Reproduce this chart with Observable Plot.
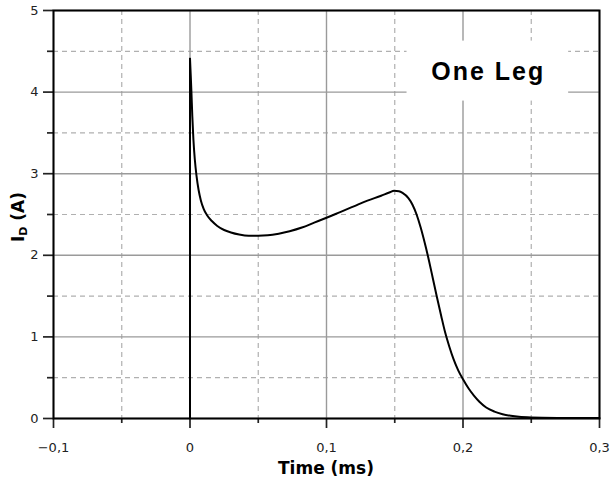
<!DOCTYPE html>
<html>
<head>
<meta charset="utf-8">
<script src="https://cdn.jsdelivr.net/npm/d3@7"></script>
<script src="https://cdn.jsdelivr.net/npm/@observablehq/plot@0.6"></script>
<style>
  body { margin: 0; background: #fff; }
</style>
</head>
<body>
<div id="chart"></div>
<script>
// Drain current of one leg during a switching event
const spikeTime = [0, 0];
const spikeCurrent = [0, 4.41];

const time = [0, 0.0005, 0.001, 0.0017, 0.0025, 0.0035, 0.0048, 0.0063, 0.008, 0.010,
  0.0125, 0.016, 0.020, 0.025, 0.030, 0.036, 0.043, 0.050, 0.057, 0.065, 0.073, 0.082,
  0.091, 0.1, 0.11, 0.12, 0.13, 0.14, 0.146, 0.1496, 0.153, 0.1557, 0.16, 0.163, 0.166,
  0.169, 0.172, 0.175, 0.178, 0.181, 0.184, 0.187, 0.190, 0.193, 0.1965, 0.2, 0.204,
  0.208, 0.212, 0.217, 0.223, 0.229, 0.235, 0.241, 0.25, 0.27, 0.3];
const current = [4.41, 4.22, 4.02, 3.70, 3.42, 3.18, 2.97, 2.80, 2.67, 2.57,
  2.49, 2.42, 2.36, 2.31, 2.28, 2.255, 2.24, 2.24, 2.245, 2.265, 2.295, 2.34,
  2.40, 2.46, 2.53, 2.60, 2.67, 2.73, 2.77, 2.79, 2.785, 2.765, 2.70, 2.62, 2.50,
  2.34, 2.15, 1.94, 1.71, 1.48, 1.26, 1.05, 0.88, 0.73, 0.59, 0.48, 0.37,
  0.28, 0.205, 0.135, 0.085, 0.053, 0.033, 0.02, 0.012, 0.007, 0.005];

const xTicks = [-0.1, 0, 0.1, 0.2, 0.3];
const xTickLabels = ["\u22120,1", "0", "0,1", "0,2", "0,3"];
const xMinorTicks = [-0.05, 0.05, 0.15, 0.25];
const yTicks = [0, 1, 2, 3, 4, 5];
const yTickLabels = ["0", "1", "2", "3", "4", "5"];
const yMinorTicks = [0.5, 1.5, 2.5, 3.5, 4.5];

const xTitle = "Time (ms)";
const legendLabel = ["One Leg"];

const curve = time.map((t, i) => ({t, a: current[i]}));
const spike = spikeTime.map((t, i) => ({t, a: spikeCurrent[i]}));

const chart = Plot.plot({
  width: 612,
  height: 484,
  marginLeft: 53,
  marginRight: 13,
  marginTop: 10,
  marginBottom: 66,
  style: {fontFamily: "DejaVu Sans", fontSize: "13px", color: "#222", background: "#fff"},
  x: {domain: [-0.1, 0.3], axis: null},
  y: {domain: [0, 5], axis: null},
  marks: [
    Plot.gridX(xMinorTicks, {stroke: "#b0b0b0", strokeOpacity: 1, strokeWidth: 1.2, strokeDasharray: "5,4"}),
    Plot.gridY(yMinorTicks, {stroke: "#b0b0b0", strokeOpacity: 1, strokeWidth: 1.2, strokeDasharray: "5,4"}),
    Plot.gridX(xTicks, {stroke: "#9a9a9a", strokeOpacity: 1, strokeWidth: 1.4}),
    Plot.gridY(yTicks, {stroke: "#9a9a9a", strokeOpacity: 1, strokeWidth: 1.4}),
    // legend box
    Plot.rect([0], {x1: 0.159, x2: 0.2774, y1: 3.89, y2: 4.625, fill: "white"}),
    Plot.text(legendLabel, {x: 0.2185, y: 4.25, text: d => d, fontFamily: "Liberation Sans",
      fontWeight: "bold", fontSize: 25, fill: "black", lineAnchor: "middle", className: "legend-label"}),
    Plot.line(spike, {x: "t", y: "a", stroke: "black", strokeWidth: 2}),
    Plot.line(curve, {x: "t", y: "a", stroke: "black", strokeWidth: 2, curve: "monotone-x"}),
    Plot.axisX(xTicks, {tickSize: 10, tickPadding: 14, strokeWidth: 1.7, label: null,
      tickFormat: d => xTickLabels[xTicks.indexOf(d)]}),
    Plot.axisX(xMinorTicks, {tickSize: 5, strokeWidth: 1.7, label: null, tickFormat: () => ""}),
    Plot.axisY(yTicks, {tickSize: 10, tickPadding: 5, strokeWidth: 1.7, label: null,
      tickFormat: d => yTickLabels[yTicks.indexOf(d)]}),
    Plot.axisY(yMinorTicks, {tickSize: 6, strokeWidth: 1.7, label: null, tickFormat: () => ""}),
    Plot.frame({stroke: "black", strokeWidth: 2})
  ]
});

const svg = d3.select(chart);
svg.selectAll(".legend-label text").attr("letter-spacing", "2px");

svg.append("text")
  .attr("x", 326).attr("y", 474)
  .attr("text-anchor", "middle")
  .attr("font-family", "DejaVu Sans").attr("font-weight", "bold").attr("font-size", 17)
  .attr("fill", "black")
  .text(xTitle);

const yt = svg.append("text")
  .attr("transform", "translate(24,217) rotate(-90)")
  .attr("text-anchor", "middle")
  .attr("font-family", "DejaVu Sans").attr("font-weight", "bold").attr("font-size", 17)
  .attr("fill", "black");
yt.append("tspan").text("I");
yt.append("tspan").attr("font-size", 11).attr("dy", 3).text("D");
yt.append("tspan").attr("dy", -3).text(" (A)");

document.getElementById("chart").appendChild(chart);
</script>
</body>
</html>
